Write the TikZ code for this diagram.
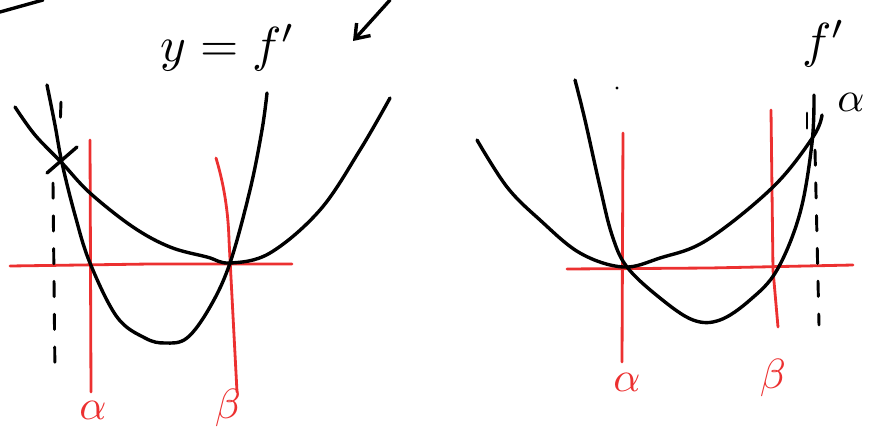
\documentclass[tikz,border=0pt]{standalone}
\usetikzlibrary{arrows.meta}
\definecolor{penred}{RGB}{236,48,48}
\tikzset{
  pen/.style={line width=2.9pt,line cap=round,line join=round},
  redpen/.style={pen,penred,line width=2.4pt},
  guide/.style={pen,line width=2.5pt,dash pattern=on 13pt off 15pt},
  bigtxt/.style={scale=4.2},
  redtxt/.style={text=penred,scale=3.6}
}
\begin{document}
\begin{tikzpicture}[x=0.03cm,y=-0.03cm]
  \useasboundingbox (0,0) rectangle (882,442);

  % stray stroke and arrow at the top
  \draw[pen] (0,12) -- (43,0);
  \draw[pen,-{Straight Barb[length=11pt,width=16pt]}] (390,0) -- (353,41);
  \node[bigtxt] (lblF) at (228,48) {$y=f'$};

  % Left panel: axes in red
  \draw[redpen] (10,266) -- (150,264) -- (292,264);
  \draw[redpen] (90,140) -- (91,392);
  \draw[redpen] (216,158) .. controls (222,178) and (228,205) .. (229,240) -- (237,392);
  \node[redtxt] (lAlpha) at (93,410) {$\alpha$};
  \node[redtxt] (lBeta) at (228,408) {$\beta$};

  % Left panel: the two curves
  \draw[pen] plot[smooth,tension=0.6] coordinates {(47,85) (55,125) (62,163) (75,215) (90,263)
    (117,317) (145,338) (165,343) (187,338) (210,307) (230,263) (250,190) (262,130) (267,93)};
  \draw[pen] plot[smooth,tension=0.6] coordinates {(15,107) (35,135) (62,163) (90,193)
    (133,227) (170,247) (207,257) (230,263) (270,253) (320,210) (360,150) (390,98)};
  \draw[pen] (47,173) -- (77,147);
  \draw[guide] (61,102) -- (60,130);
  \draw[guide] (53,183) -- (55,376);

  % Right panel: axes in red
  \draw[redpen] (567,269) -- (710,268) -- (853,265);
  \draw[redpen] (623,133) -- (622,362);
  \draw[redpen] (771,110) -- (773,270) -- (778,327);
  \node[redtxt] (rAlpha) at (627,382) {$\alpha$};
  \node[redtxt] (rBeta) at (773,378) {$\beta$};

  % Right panel: the two curves
  \draw[pen] plot[smooth,tension=0.6] coordinates {(477,140) (507,187) (540,220) (580,253)
    (623,267) (660,258) (707,240) (773,187) (813,137) (822,115)};
  \draw[pen] plot[smooth,tension=0.6] coordinates {(575,80) (585,120) (600,187) (612,235)
    (627,267) (660,298) (693,320) (720,320) (750,300) (777,270) (800,213) (812,143) (814,95)};
  \draw[guide] (807,113) -- (807,133);
  \draw[guide] (815,150) -- (819,325);
  \fill (617,88) circle (1.3pt);
  \node[bigtxt] (rF) at (824,44) {$f'$};
  \node[scale=3.6] (rQ) at (851,102) {$\alpha$};
\end{tikzpicture}
\end{document}
